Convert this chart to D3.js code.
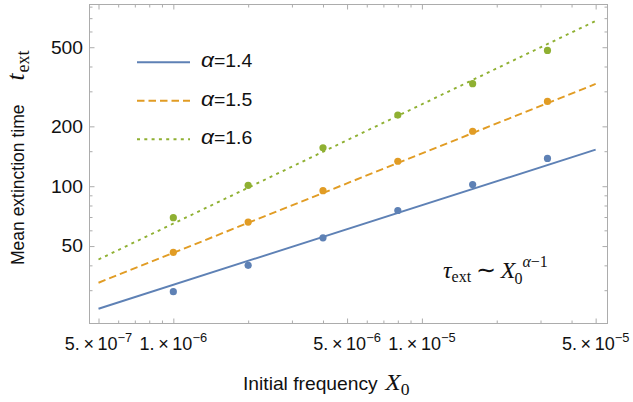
<!DOCTYPE html>
<html><head><meta charset="utf-8">
<script src="https://cdn.jsdelivr.net/npm/d3@7"></script>
<style>body{margin:0;background:#fff}svg{display:block}</style>
</head><body>
<svg id="c" width="633" height="402"></svg>
<script>
// ---- data ----
const xValues = [1e-6, 2e-6, 4e-6, 8e-6, 1.6e-5, 3.2e-5];
const alpha14 = [29.5, 40, 55, 75.5, 102, 138];
const alpha15 = [46.5, 66, 95, 133.5, 189, 267];
const alpha16 = [69.5, 101, 156, 228, 328, 482];
const fitX = [5e-7, 5e-5];
const fit14 = [24.2, 152.7];
const fit15 = [32.7, 327];
const fit16 = [42.8, 678];
const legendValues = ["1.4", "1.5", "1.6"];
const xMajorTicks = [5e-7, 1e-6, 5e-6, 1e-5, 5e-5];
const xTickMantissas = ["5.", "1.", "5.", "1.", "5."];
const xTickExponents = ["\u22127", "\u22126", "\u22126", "\u22125", "\u22125"];
const xMinorTicks = [6e-7, 7e-7, 8e-7, 9e-7, 2e-6, 3e-6, 4e-6, 6e-6, 7e-6, 8e-6, 9e-6, 2e-5, 3e-5, 4e-5];
const yMajorTicks = [50, 100, 200, 500];
const yTickLabels = ["50", "100", "200", "500"];
const yMinorTicks = [30, 40, 60, 70, 80, 90, 150, 300, 400, 600, 700, 800];

const colors = ["#5E81B5", "#E19C24", "#8FB032"];
const dashes = [null, "7.5,4", "3,4.3"];
const series = [
  {pts: alpha14, fit: fit14},
  {pts: alpha15, fit: fit15},
  {pts: alpha16, fit: fit16}
];

// ---- layout ----
const svg = d3.select("#c");
const L = 89.5, R = 607.5, T = 4.5, B = 323.5;
const x = d3.scaleLog().domain([4.6e-7, 5.58e-5]).range([L, R]);
const y = d3.scaleLog().domain([20.4, 820]).range([B, T]);
const frameColor = "#acacac";
const textColor = "#111";
const sans = "'Liberation Sans', Arial, Helvetica, sans-serif";
const serif = "'Liberation Serif', 'Times New Roman', serif";

function styleAxis(g) {
  g.select(".domain").remove();
  g.selectAll("line").attr("stroke", frameColor).attr("stroke-width", 1);
  g.selectAll("text").remove();
}
const nofmt = () => "";
svg.append("g").attr("transform", `translate(0,${B})`).call(d3.axisBottom(x).tickValues(xMajorTicks).tickSize(-5).tickFormat(nofmt)).call(styleAxis);
svg.append("g").attr("transform", `translate(0,${B})`).call(d3.axisBottom(x).tickValues(xMinorTicks).tickSize(-3).tickFormat(nofmt)).call(styleAxis);
svg.append("g").attr("transform", `translate(0,${T})`).call(d3.axisTop(x).tickValues(xMajorTicks).tickSize(-5).tickFormat(nofmt)).call(styleAxis);
svg.append("g").attr("transform", `translate(0,${T})`).call(d3.axisTop(x).tickValues(xMinorTicks).tickSize(-3).tickFormat(nofmt)).call(styleAxis);
svg.append("g").attr("transform", `translate(${L},0)`).call(d3.axisLeft(y).tickValues(yMajorTicks).tickSize(-5).tickFormat(nofmt)).call(styleAxis);
svg.append("g").attr("transform", `translate(${L},0)`).call(d3.axisLeft(y).tickValues(yMinorTicks).tickSize(-3).tickFormat(nofmt)).call(styleAxis);
svg.append("g").attr("transform", `translate(${R},0)`).call(d3.axisRight(y).tickValues(yMajorTicks).tickSize(-5).tickFormat(nofmt)).call(styleAxis);
svg.append("g").attr("transform", `translate(${R},0)`).call(d3.axisRight(y).tickValues(yMinorTicks).tickSize(-3).tickFormat(nofmt)).call(styleAxis);

svg.append("rect").attr("x", L).attr("y", T).attr("width", R - L).attr("height", B - T)
  .attr("fill", "none").attr("stroke", frameColor).attr("stroke-width", 1);

// x tick labels
const xl = svg.append("g").selectAll("g").data(xMajorTicks).join("g")
  .attr("transform", d => `translate(${x(d)},350) scale(1.03,1)`);
const xt = xl.append("text").attr("text-anchor", "middle").attr("font-family", sans)
  .attr("font-size", 17.5).attr("fill", textColor);
xt.append("tspan").text((d, i) => xTickMantissas[i] + "\u2009\u00d7\u200910");
xt.append("tspan").attr("font-size", 12.5).attr("dy", -8.5).text((d, i) => xTickExponents[i]);

// y tick labels
svg.append("g").selectAll("g").data(yMajorTicks).join("g")
  .attr("transform", d => `translate(83,${y(d)}) scale(1.1,1)`)
  .append("text").attr("text-anchor", "end").attr("dy", "0.36em")
  .attr("font-family", sans).attr("font-size", 17.5).attr("fill", textColor)
  .text((d, i) => yTickLabels[i]);

// fit lines and points
const line = d3.line().x(d => x(d[0])).y(d => y(d[1]));
const plot = svg.append("g");
series.forEach((s, i) => {
  plot.append("path").datum(fitX.map((xv, j) => [xv, s.fit[j]]))
    .attr("d", line).attr("fill", "none").attr("stroke", colors[i])
    .attr("stroke-width", 1.9).attr("stroke-dasharray", dashes[i]);
});
series.forEach((s, i) => {
  plot.append("g").selectAll("circle").data(xValues.map((xv, j) => [xv, s.pts[j]])).join("circle")
    .attr("cx", d => x(d[0])).attr("cy", d => y(d[1])).attr("r", 3.6).attr("fill", colors[i]);
});

// legend
const lg = svg.append("g").selectAll("g").data(legendValues).join("g")
  .attr("transform", (d, i) => `translate(137,${62.3 + i * 38.5})`);
lg.append("line").attr("x1", 0).attr("x2", 53).attr("y1", 0).attr("y2", 0)
  .attr("stroke", (d, i) => colors[i]).attr("stroke-width", 1.9)
  .attr("stroke-dasharray", (d, i) => dashes[i]);
const lt = lg.append("g").attr("transform", "translate(64,5) scale(1.08,1)")
  .append("text").attr("font-family", sans).attr("font-size", 18).attr("fill", textColor);
lt.append("tspan").attr("font-style", "italic").attr("font-size", 21).text("\u03b1");
lt.append("tspan").text(d => "=" + d);

// y axis label
const yl = svg.append("text").attr("transform", "translate(24,265) rotate(-90)")
  .attr("font-family", sans).attr("font-size", 17.5).attr("fill", textColor);
yl.append("tspan").text("Mean extinction time");
yl.append("tspan").attr("dx", 24).attr("font-family", serif).attr("font-style", "italic").attr("font-size", 25).text("t");
yl.append("tspan").attr("dy", 5).attr("dx", 1).attr("font-family", serif).attr("font-size", 18).text("ext");

// x axis label
const xlab = svg.append("g").attr("transform", "translate(243,390) scale(1.1,1)")
  .append("text").attr("font-family", sans).attr("font-size", 17.5).attr("fill", textColor);
xlab.append("tspan").text("Initial frequency");
xlab.append("tspan").attr("dx", 7).attr("font-family", serif).attr("font-style", "italic").attr("font-size", 23).text("X");
xlab.append("tspan").attr("dy", 5).attr("font-family", serif).attr("font-size", 16).text("0");

// annotation
const an = svg.append("text").attr("x", 443).attr("y", 278).attr("font-family", serif)
  .attr("font-size", 24).attr("fill", textColor);
an.append("tspan").attr("font-style", "italic").text("\u03c4");
an.append("tspan").attr("font-size", 16).attr("dy", 4).text("ext");
an.append("tspan").attr("dy", -4).text("\u2009\u223c\u2009");
an.append("tspan").attr("font-style", "italic").text("X");
an.append("tspan").attr("font-size", 16).attr("dy", 6).attr("dx", -1).text("0");
an.append("tspan").attr("font-size", 16).attr("font-style", "italic").attr("dy", -17).attr("dx", 0).text("\u03b1");
an.append("tspan").attr("font-size", 16).text("\u22121");
</script>
</body></html>
